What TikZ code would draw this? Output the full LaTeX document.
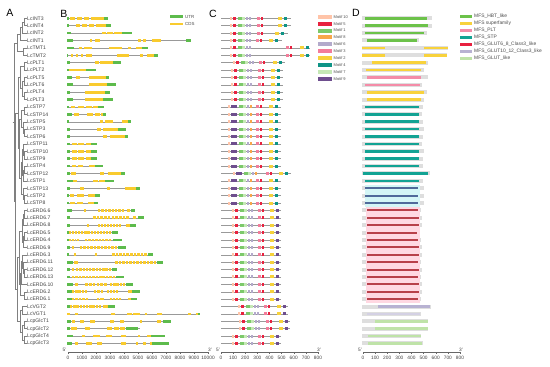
\documentclass[tikz,border=0pt]{standalone}
\usepackage{fontspec}
\setmainfont{Liberation Sans}
\definecolor{colU}{HTML}{5DBB4C}
\definecolor{colC}{HTML}{F9CB2E}
\definecolor{m10}{HTML}{FFC4A8}
\definecolor{m5}{HTML}{E8223F}
\definecolor{m1}{HTML}{7CC96A}
\definecolor{m8}{HTML}{F8A64A}
\definecolor{m6}{HTML}{B3AACB}
\definecolor{m3}{HTML}{F37C9A}
\definecolor{m2}{HTML}{F7D23A}
\definecolor{m4}{HTML}{0E9486}
\definecolor{m7}{HTML}{C5E8B5}
\definecolor{m9}{HTML}{6E4E8E}
\definecolor{dgray}{HTML}{DEDEDE}
\definecolor{dhbt}{HTML}{6CC24A}
\definecolor{dsup}{HTML}{F8D23C}
\definecolor{dplt}{HTML}{F48CA8}
\definecolor{dstp}{HTML}{13A394}
\definecolor{dg68}{HTML}{E8203F}
\definecolor{dg1012}{HTML}{B8B2D2}
\definecolor{dglut}{HTML}{BFE3A8}
\definecolor{cyanbg}{HTML}{D4F6F6}
\definecolor{slate}{HTML}{506A9A}
\definecolor{pinkbg}{HTML}{FFD8E2}
\definecolor{darkred}{HTML}{B8404A}
\newcommand\RY[1]{\pgfmathsetmacro\yy{18.3+7.39*#1}}
% gene structure: row, end, list of type/start/end
\newcommand\gene[3]{\RY{#1}\draw[intron] (67,\yy) -- (#2,\yy);
  \foreach \gt/\ga/\gb in {#3}{\fill[col\gt] (\ga,\yy-1.35) rectangle (\gb,\yy+1.35);}}
\newcommand\gmulti[3]{\foreach \k in {1,...,#3}{%
  \pgfmathsetmacro\xa{#1+(\k-1)*(#2-#1)/#3}\pgfmathsetmacro\xb{\xa+0.72*(#2-#1)/#3}%
  \fill[colC] (\xa,\yy-1.35) rectangle (\xb,\yy+1.35);}}
% motifs
\newcommand\motif[3]{\fill[#1] (#2,\yy-1.5) rectangle ++(#3,3);}
\newcommand\frontA[1]{\motif{m10}{230+#1}{2}\motif{m5}{233+#1}{2.5}\motif{m1}{238+#1}{3.5}\motif{m7}{242+#1}{2.5}\motif{m6}{246+#1}{2}\motif{m6}{249+#1}{2}}
\newcommand\frontB[1]{\motif{m10}{228+#1}{2}\motif{m9}{231+#1}{2.5}\motif{m9}{234+#1}{2.5}\motif{m1}{239+#1}{3.5}\motif{m7}{243+#1}{2.5}\motif{m6}{247+#1}{2}\motif{m8}{250+#1}{2}}
\newcommand\crow[7]{\RY{#1}\draw[mline] (221,\yy) -- (#2,\yy);
  \csname front#3\endcsname{#4}%
  \motif{m3}{#5}{3}\motif{m5}{#5+3.5}{2.5}\motif{m2}{#6}{4}\motif{#7}{#6+6}{2.5}}
% domains
\newcommand\drow[5]{\RY{#1}\fill[dgray] (362,\yy-2) rectangle (#2,\yy+2);\fill[#3] (#4,\yy-1.3) rectangle (#5,\yy+1.3);}
\newcommand\drowS[1]{\RY{#1}\fill[dgray] (362,\yy-2) rectangle (424,\yy+2);\fill[cyanbg] (365,\yy-3.7) rectangle (420,\yy+3.7);\fill[slate] (365,\yy-1) rectangle (418,\yy+1);}
\newcommand\drowE[3]{\RY{#1}\fill[dgray] (362,\yy-2) rectangle (#2,\yy+2);\fill[pinkbg] (366,\yy-3.7) rectangle (420,\yy+3.7);\fill[darkred] (367,\yy-1) rectangle (#3,\yy+1);}
% tree clade: x, ya, xa, yb, xb
\newcommand\clade[5]{\draw[tree] (#3,#2) -| (#1,#4) -- (#5,#4);}
\begin{document}
\begin{tikzpicture}[x=1pt,y=-1pt,
  lab/.style={anchor=west,inner sep=0pt,font=\fontsize{5.1}{6}\selectfont,text=black!75},
  tick/.style={inner sep=0pt,font=\fontsize{4.8}{5.5}\selectfont,text=black!75},
  leg/.style={anchor=west,inner sep=0pt,font=\fontsize{4.4}{5}\selectfont,text=black!70},
  mleg/.style={anchor=west,inner sep=0pt,font=\fontsize{4.0}{5}\selectfont,text=black!70},
  tree/.style={draw=black!50,line width=0.4pt},
  intron/.style={draw=black!40,line width=0.5pt},
  mline/.style={draw=black!40,line width=0.45pt},
  axisline/.style={draw=black!60,line width=0.4pt},
  panel/.style={inner sep=0pt,font=\fontsize{10.5}{12}\selectfont}]
\useasboundingbox[fill=white] (0,0) rectangle (550,367);
% panel letters
\node[panel] (pA) at (10,13) {A};
\node[panel] (pB) at (64,14) {B};
\node[panel] (pC) at (213,14) {C};
\node[panel] (pD) at (356,13) {D};
% ---------- A: labels and tree
\foreach \n [count=\i from 0] in {LcINT3,LcINT4,LcINT2,LcINT1,LcTMT1,LcTMT2,LcPLT1,LcPLT2,LcPLT5,LcPLT6,LcPLT4,LcPLT3,LcSTP7,LcSTP14,LcSTP5,LcSTP3,LcSTP6,LcSTP11,LcSTP10,LcSTP9,LcSTP4,LcSTP12,LcSTP1,LcSTP13,LcSTP2,LcSTP8,LcERD6.6,LcERD6.7,LcERD6.8,LcERD6.5,LcERD6.4,LcERD6.9,LcERD6.3,LcERD6.11,LcERD6.12,LcERD6.13,LcERD6.10,LcERD6.2,LcERD6.1,LcVGT2,LcVGT1,LcpGlcT1,LcpGlcT2,LcpGlcT4,LcpGlcT3}
  \node[lab] (g\i) at (27,{18.3+7.39*\i}) {\n};
\clade{24}{18.30}{26.5}{25.69}{26.5}
\clade{22}{22.0}{24}{33.08}{26.5}
\clade{20}{27.54}{22}{40.47}{26.5}
\clade{23}{47.86}{26.5}{55.25}{26.5}
\clade{17.5}{34.0}{20}{51.56}{23}
\clade{24}{62.64}{26.5}{70.03}{26.5}
\clade{24}{77.42}{26.5}{84.81}{26.5}
\clade{24}{92.20}{26.5}{99.59}{26.5}
\clade{22}{81.12}{24}{95.9}{24}
\clade{20}{66.34}{24}{88.51}{22}
\clade{24}{106.98}{26.5}{114.37}{26.5}
\clade{24.5}{129.15}{26.5}{136.54}{26.5}
\clade{23}{121.76}{26.5}{132.85}{24.5}
\clade{21.5}{110.68}{24}{127.3}{23}
\clade{24.5}{151.32}{26.5}{158.71}{26.5}
\clade{23.5}{143.93}{26.5}{155.02}{24.5}
\clade{24.5}{166.10}{26.5}{173.49}{26.5}
\clade{23}{169.8}{24.5}{180.88}{26.5}
\clade{22}{149.47}{23.5}{175.34}{23}
\clade{24.5}{195.66}{26.5}{203.05}{26.5}
\clade{23}{188.27}{26.5}{199.36}{24.5}
\clade{21}{162.4}{22}{193.8}{23}
\clade{19.5}{118.99}{21.5}{178.1}{21}
\clade{18}{77.43}{20}{148.55}{19.5}
\clade{24.5}{210.44}{26.5}{217.83}{26.5}
\clade{23.5}{214.14}{24.5}{225.22}{26.5}
\clade{24.5}{232.61}{26.5}{240.0}{26.5}
\clade{23.5}{236.3}{24.5}{247.39}{26.5}
\clade{22.5}{219.68}{23.5}{241.85}{23.5}
\clade{24.5}{269.56}{26.5}{276.95}{26.5}
\clade{23.5}{262.17}{26.5}{273.26}{24.5}
\clade{22.5}{254.78}{26.5}{267.7}{23.5}
\clade{21.5}{261.24}{22.5}{284.34}{26.5}
\clade{24.5}{291.73}{26.5}{299.12}{26.5}
\clade{20.5}{272.79}{21.5}{295.43}{24.5}
\clade{19.5}{230.77}{22.5}{284.11}{20.5}
\clade{22}{306.51}{26.5}{313.90}{26.5}
\clade{24}{321.29}{26.5}{328.68}{26.5}
\clade{24}{336.07}{26.5}{343.46}{26.5}
\clade{22}{324.99}{24}{339.77}{24}
\clade{20}{310.2}{22}{332.38}{22}
\clade{17}{257.44}{19.5}{321.29}{20}
\clade{15.5}{112.99}{18}{289.37}{17}
\clade{14}{42.78}{17.5}{201.18}{15.5}
\draw[tree] (12.5,121.98) -- (14,121.98);
% ---------- B: gene structures
\fill[colU] (170,15.4) rectangle (183,18.0); \node[leg] (lutr) at (185,16.7) {UTR};
\fill[colC] (170,22.7) rectangle (183,25.3); \node[leg] (lcds) at (185,24) {CDS};
\gene{0}{108}{U/67/69,C/70/75,C/77/82,C/84/89,C/91/104,U/104/108}
\gene{1}{111}{U/67/69,C/76/80,C/82/87,C/89/94,C/96/106,U/106/111}
\gene{2}{132}{U/67/71,C/102/106,C/107/113,C/114/122,U/122/132}
\gene{3}{191}{U/67/73,C/90/92,C/95/100,C/138/141,C/143/146,C/152/161,U/186/191}
\gene{4}{148}{U/67/74,C/79/82,C/84/92,C/109/122,C/128/131,C/136/142,U/142/148}
\gene{5}{158}{U/67/68,C/71/72.5,C/76/77.5,C/81/82.5,C/86/92,C/117/129,C/140/143,C/147/154,U/154/158}
\gene{6}{121}{U/67/70,C/95/99,C/100/113,U/113/121}
\gene{7}{96}{U/67/69,C/69/86,U/86/96}
\gene{8}{109}{U/67/72,C/76/80,C/89/106,U/106/109}
\gene{9}{116}{U/67/73,C/89/107,U/107/116}
\gene{10}{110}{U/67/70,C/85/105,U/105/110}
\gene{11}{113}{U/67/73,C/85/103,U/103/113}
\gene{12}{104}{U/67/69,C/71/75,C/78/84,C/86/92,C/93/98,U/98/104}
\gene{13}{106}{U/67/72,C/74/79,C/87/93,C/95/100,C/101/103,U/103/106}
\gene{14}{131}{U/67/69,C/100/103,C/105/113,C/122/128,U/128/131}
\gene{15}{126}{U/67/70,C/97/101,C/103/118,U/118/126}
\gene{16}{128}{U/67/70,C/103/107,C/110/125,U/125/128}
\gene{17}{97}{U/67/70,C/72/77,C/78/84,C/86/91,U/91/97}
\gene{18}{97}{U/67/70,C/72/77,C/78/84,C/86/91,U/91/97}
\gene{19}{97}{U/67/70,C/72/77,C/78/84,C/86/91,U/91/97}
\gene{20}{103}{U/67/70,C/72/76,C/78/83,C/89/95,U/95/103}
\gene{21}{125}{U/67/70,C/71/76,C/100/104,C/108/121,U/121/125}
\gene{22}{114}{U/67/73,C/73/77,C/93/98,C/99/105,U/105/114}
\gene{23}{140}{U/67/70,C/80/84,C/107/110,C/125/136,U/136/140}
\gene{24}{100}{U/67/69,C/70/74,C/77/84,C/88/95,U/95/100}
\gene{25}{98}{U/67/69,C/70/75,C/77/83,C/88/94,U/94/98}
\gene{26}{135}{U/67/72,C/84/86,C/127/130,U/131/135}\gmulti{98}{125}{8}
\gene{27}{144}{U/67/70,C/133/136,U/138/144}\gmulti{93}{130}{10}
\gene{28}{136}{U/67/70,C/87/89,C/126/130,U/130/136}\gmulti{98}{122}{8}
\gene{29}{118}{U/67/69,U/112/118}\gmulti{69}{112}{14}
\gene{30}{122}{U/67/69,U/113/122}\gmulti{69}{80}{4}\gmulti{85}{112}{8}
\gene{31}{126}{U/67/70,C/72/74,U/118/126}\gmulti{80}{118}{11}
\gene{32}{153}{U/67/69,C/74/76,C/95/97,U/148/153}\gmulti{112}{148}{10}
\gene{33}{163}{U/67/73,C/74/78,U/157/163}\gmulti{115}{157}{12}
\gene{34}{117}{U/67/70,C/72/74,U/112/117}\gmulti{76}{112}{11}
\gene{35}{124}{U/67/70,U/116/124}\gmulti{72}{116}{13}
\gene{36}{133}{U/67/73,C/75/78,U/126/133}\gmulti{85}{108}{6}\gmulti{110}{126}{5}
\gene{37}{140}{U/67/72,C/128/132,U/132/140}\gmulti{72}{88}{5}\gmulti{94}{104}{3}\gmulti{107}{119}{4}
\gene{38}{137}{U/67/72,C/128/131,U/131/137}\gmulti{72}{89}{5}\gmulti{97}{105}{3}\gmulti{110}{122}{4}
\gene{39}{115}{U/67/70,C/103/108,U/108/115}\gmulti{70}{102}{10}
\gene{40}{200}{C/67/70,C/75/78,C/111/115,C/127/132,C/133/140,C/145/147,C/157/162,C/188/191,C/196/198,U/198/200}
\gene{41}{171}{U/67/71,C/72/75,C/80/84,C/90/95,C/110/114,C/120/124,C/140/142,C/157/161,U/163/171}
\gene{42}{140}{U/67/70,C/71/77,C/85/90,C/107/112,C/114/119,C/120/125,U/126/138}
\gene{43}{165}{U/67/73,C/82/85,C/93/100,C/106/112,C/121/126,C/138/140,C/147/151,U/151/165}
\gene{44}{169}{U/67/72,C/75/78,C/86/92,C/97/102,C/121/126,C/136/138,C/143/146,C/150/152,U/152/169}
% B axis
\draw[axisline] (68,352) -- (208,352);
\foreach \k in {0,...,40} \draw[axisline] ({68+3.5*\k},352) -- ++(0,0.8);
\foreach \k/\t in {0/0,1/1000,2/2000,3/3000,4/4000,5/5000,6/6000,7/7000,8/8000,9/9000,10/10000}{
  \draw[axisline] ({68+14*\k},352) -- ++(0,1.5);
  \node[tick] (bt\k) at ({68+14*\k},357.6) {\t};}
\node[tick] (b5) at (64.5,349.5) {5'};
\node[tick] (b3) at (210,349.5) {3'};
% ---------- C: motifs
\foreach \c/\t [count=\i from 0] in {m10/Motif 10,m5/Motif 5,m1/Motif 1,m8/Motif 8,m6/Motif 6,m3/Motif 3,m2/Motif 2,m4/Motif 4,m7/Motif 7,m9/Motif 9}{
  \fill[\c] (318,{14.7+6.9*\i}) rectangle (332,{18.7+6.9*\i});
  \node[mleg] (ml\i) at (333.5,{16.7+6.9*\i}) {\t};}
\crow{0}{291}{A}{0}{257}{278}{m4}
\crow{1}{291}{A}{0}{257}{278}{m4}
\crow{2}{288}{A}{0}{257}{275}{m4}
\crow{3}{282}{A}{0}{256}{269}{m4}
\crow{4}{310}{A}{0}{286}{300}{m4}
\crow{5}{310}{A}{0}{286}{300}{m4}
\crow{6}{285}{A}{3}{259}{273}{m4}
\crow{7}{283}{A}{1}{258}{271}{m4}
\crow{8}{283}{A}{1}{258}{271}{m4}
\crow{9}{283}{A}{1}{258}{271}{m4}
\crow{10}{283}{A}{1}{258}{271}{m4}
\crow{11}{283}{A}{1}{258}{271}{m4}
\foreach \r in {12,...,20}{\crow{\r}{281}{B}{0}{256}{269}{m4}}
\crow{21}{291}{B}{5}{266}{279}{m4}
\foreach \r in {22,...,25}{\crow{\r}{281}{B}{0}{256}{269}{m4}}
\foreach \r in {26,...,38}{\crow{\r}{281}{A}{2}{258}{270}{m9}}
\crow{39}{288}{A}{8}{264}{277}{m9}
\crow{40}{288}{A}{8}{264}{277}{m9}
\crow{41}{290}{A}{9}{266}{279}{m9}
\crow{42}{290}{A}{9}{266}{279}{m9}
\crow{43}{281}{A}{2}{258}{270}{m9}
\crow{44}{281}{A}{2}{258}{270}{m9}
% C axis
\draw[axisline] (221,352) -- (318,352);
\foreach \k in {0,...,32} \draw[axisline] ({221+3.03125*\k},352) -- ++(0,0.8);
\foreach \k/\t in {0/0,1/100,2/200,3/300,4/400,5/500,6/600,7/700,8/800}{
  \draw[axisline] ({221+12.125*\k},352) -- ++(0,1.5);
  \node[tick] (ct\k) at ({221+12.125*\k},357.6) {\t};}
\node[tick] (c5) at (218,349.5) {5'};
\node[tick] (c3) at (319,349.5) {3'};
% ---------- D: domains
\foreach \c/\t [count=\i from 0] in {dhbt/MFS\_HBT\_like,dsup/MFS superfamily,dplt/MFS\_PLT,dstp/MFS\_STP,dg68/MFS\_GLUT6\_8\_Class3\_like,dg1012/MFS\_GLUT10\_12\_Class3\_like,dglut/MFS\_GLUT\_like}{
  \fill[\c] (460,{15.2+7*\i}) rectangle (472,{18.2+7*\i});
  \node[leg,font=\fontsize{4.9}{5.5}\selectfont] (dl\i) at (474,{16.7+7*\i}) {\t};}
\drow{0}{432}{dhbt}{365}{427}
\drow{1}{432}{dhbt}{365}{428}
\drow{2}{427}{dhbt}{365}{424}
\drow{3}{419}{dhbt}{367}{417}
\drow{4}{448}{dsup}{362}{385}\fill[dsup] (424,\yy-1.3) rectangle (448,\yy+1.3);
\drow{5}{447}{dsup}{362}{385}\fill[dsup] (424,\yy-1.3) rectangle (447,\yy+1.3);
\drow{6}{428}{dsup}{372}{426}
\drow{7}{424}{dsup}{366}{421}
\drow{8}{428}{dplt}{367}{421}
\drow{9}{422}{dplt}{365}{420}
\drow{10}{427}{dsup}{367}{424}
\drow{11}{424}{dsup}{367}{421}
\drow{12}{423}{dstp}{365}{419}
\drow{13}{422}{dstp}{365}{419}
\drow{14}{423}{dstp}{365}{419}
\drow{15}{424}{dstp}{365}{419}
\drow{16}{423}{dstp}{365}{419}
\drow{17}{422}{dstp}{365}{419}
\drow{18}{424}{dstp}{365}{419}
\drow{19}{423}{dstp}{365}{419}
\drow{20}{423}{dstp}{365}{419}
\drow{21}{430}{dstp}{363}{428}
\drow{22}{423}{dstp}{365}{419}
\drowS{23}\drowS{24}\drowS{25}
\drowE{26}{421}{418}
\drowE{27}{422}{419}
\drowE{28}{422}{419}
\drowE{29}{420}{417}
\drowE{30}{421}{418}
\drowE{31}{422}{419}
\drowE{32}{422}{419}
\drowE{33}{421}{418}
\drowE{34}{422}{419}
\drowE{35}{421}{418}
\drowE{36}{422}{419}
\drowE{37}{422}{419}
\drowE{38}{421}{418}
\drow{39}{431}{dg1012}{378}{430}
\drow{40}{421}{dg1012!60}{367}{420}
\drow{41}{428}{dglut}{375}{428}
\drow{42}{428}{dglut}{375}{428}
\drow{43}{421}{dglut}{368}{421}
\drow{44}{423}{dglut}{368}{422}
% D axis
\draw[axisline] (363,352) -- (460,352);
\foreach \k in {0,...,32} \draw[axisline] ({363+3.03125*\k},352) -- ++(0,0.8);
\foreach \k/\t in {0/0,1/100,2/200,3/300,4/400,5/500,6/600,7/700,8/800}{
  \draw[axisline] ({363+12.125*\k},352) -- ++(0,1.5);
  \node[tick] (dt\k) at ({363+12.125*\k},357.6) {\t};}
\node[tick] (d5) at (360,349.5) {5'};
\node[tick] (d3) at (461,349.5) {3'};
\end{tikzpicture}
\end{document}
